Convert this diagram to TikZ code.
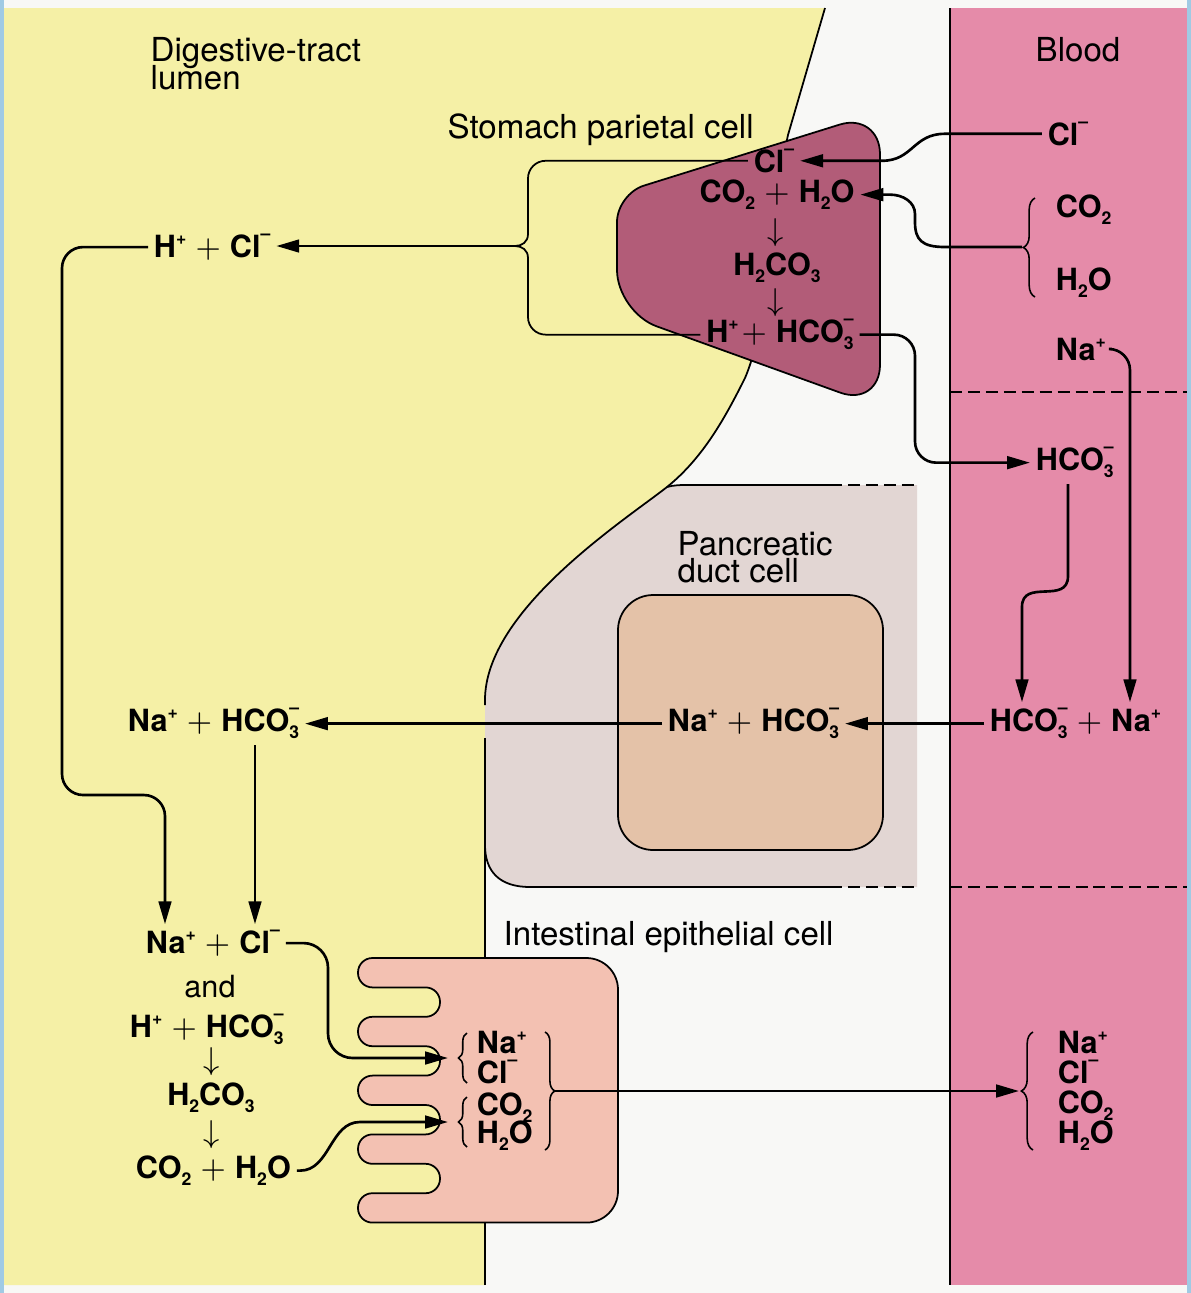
\documentclass[tikz,border=0pt]{standalone}
\usepackage{fontspec}
\setmainfont{TeX Gyre Heros}
\usetikzlibrary{positioning}
\usetikzlibrary{arrows.meta}
\usetikzlibrary{decorations.pathreplacing}
\definecolor{lumenyellow}{RGB}{245,240,166}
\definecolor{bloodpink}{RGB}{229,139,169}
\definecolor{parietal}{RGB}{178,92,120}
\definecolor{ductcell}{RGB}{226,214,211}
\definecolor{ductcore}{RGB}{228,194,168}
\definecolor{villuscell}{RGB}{243,193,178}
\definecolor{paper}{RGB}{248,248,246}
\definecolor{scanedge}{RGB}{160,202,228}
\newcommand{\ionpos}{\raisebox{0.75ex}{\fontsize{5}{5}\selectfont +}}
\newcommand{\ionneg}{\raisebox{1.05ex}{\fontsize{5}{5}\selectfont \textendash}}
\newcommand{\atoms}[1]{\raisebox{-0.48ex}{\fontsize{5}{5}\selectfont #1}}
\newcommand{\bicarb}{HCO\rlap{\atoms{3}}\ionneg}
\newcommand{\plusop}{\hspace{0.3em}$+$\hspace{0.3em}}

\begin{document}
\begin{tikzpicture}[x=0.01cm, y=-0.01cm,
		ion/.style={font=\fontsize{8.7}{8.5}\selectfont\bfseries, inner sep=1.5pt},
		word/.style={font=\fontsize{8.7}{8.5}\selectfont, inner sep=1.5pt},
		region/.style={font=\fontsize{9.4}{7.6}\selectfont, align=left, inner sep=0pt},
		conn/.style={line width=0.75pt, rounded corners=6pt},
		arr/.style={conn, -{Triangle[length=6.5pt,width=3.6pt]}},
		cellline/.style={line width=0.5pt},
		bracketline/.style={line width=0.5pt, rounded corners=5pt},
		memdash/.style={line width=0.6pt, dash pattern=on 3.4pt off 1.7pt},
		ionbrace/.style={decorate, decoration={brace, amplitude=#1}, line width=0.45pt}]

	\useasboundingbox (0,0) rectangle (1191,1293);
	\fill[paper] (0,0) rectangle (1191,1293);
	\fill[scanedge] (0,0) rectangle (4,1293);
	\fill[scanedge] (1187,0) rectangle (1191,1293);

	% lumen, blood and pancreatic duct cell
	\fill[lumenyellow] (4,8) -- (825,8) -- (788,135) .. controls (776,190) and (770,320) .. (745,378)
		.. controls (725,418) and (703,458) .. (667,487) .. controls (625,520) and (485,610) .. (485,700)
		-- (485,1285) -- (4,1285) -- cycle;
	\fill[bloodpink] (950,8) rectangle (1187,1285);
	\draw[cellline] (950,8) -- (950,1285);
	\draw[memdash] (950,392) -- (1187,392);
	\draw[memdash] (950,887) -- (1187,887);

	\fill[ductcell] (485,700) .. controls (485,610) and (625,520) .. (667,487) .. controls (674,485) and (680,485) .. (690,485)
		-- (917,485) -- (917,887) -- (530,887) .. controls (500,887) and (485,872) .. (485,845) -- cycle;
	\draw[cellline] (825,8) -- (788,135) .. controls (776,190) and (770,320) .. (745,378)
		.. controls (725,418) and (703,458) .. (667,487);
	\draw[cellline] (485,705) -- (485,700) .. controls (485,610) and (625,520) .. (667,487)
		.. controls (674,485) and (680,485) .. (690,485) -- (830,485);
	\draw[cellline] (485,738) -- (485,1285);
	\draw[cellline] (485,845) .. controls (485,872) and (500,887) .. (530,887) -- (830,887);
	\draw[memdash] (830,485) -- (917,485);
	\draw[memdash] (830,887) -- (917,887);
	\draw[cellline, fill=ductcore, rounded corners=10pt] (618,595) rectangle (883,850);

	% stomach parietal cell
	\draw[cellline, fill=parietal, rounded corners=8pt] (617,194) [rounded corners=12pt] -- (880,112) -- (880,407)
		-- (617,312) [rounded corners=8pt] -- cycle;

	% intestinal epithelial cell
	\draw[cellline, fill=villuscell, rounded corners=4.1pt] (500,958) [rounded corners=9pt] -- (618,958) -- (618,1222.6)
		[rounded corners=4.1pt] -- (358,1222.6) -- (358,1193.2) -- (440,1193.2) -- (440,1163.8) -- (358,1163.8)
		-- (358,1134.4) -- (440,1134.4) -- (440,1105) -- (358,1105)
		-- (358,1075.6) -- (440,1075.6) -- (440,1046.2) -- (358,1046.2)
		-- (358,1016.8) -- (440,1016.8) -- (440,987.4) -- (358,987.4) -- (358,958) -- cycle;

	\node[region, anchor=north west] (lumenlbl) at (150,37) {Digestive-tract\\[-2pt]lumen};
	\node[region, anchor=base west] (stomachlbl) at (447,138) {Stomach parietal cell};
	\node[region, anchor=base] (bloodlbl) at (1078,61) {Blood};
	\node[region, anchor=north west] (ductlbl) at (677,531) {Pancreatic\\duct cell};
	\node[region, anchor=base west] (villuslbl) at (503,945) {Intestinal epithelial cell};

	\node[ion, anchor=base] (scl) at (774,172) {Cl\ionneg};
	\node[ion, anchor=base] (sgas) at (777,202) {CO\atoms{2}\plusop H\atoms{2}O};
	\node[word] (sdown1) at (776,233) {$\downarrow$};
	\node[ion, anchor=base] (sacid) at (777,275) {H\atoms{2}CO\atoms{3}};
	\node[word] (sdown2) at (776,303) {$\downarrow$};
	\node[ion, anchor=base] (ssplit) at (780,342) {H\ionpos\hspace{0.1em}$+$\hspace{0.3em}\bicarb};

	\node[ion, anchor=base] (bcl) at (1068,145) {Cl\ionneg};
	\node[ion, anchor=base west] (bco) at (1050,217) {CO\atoms{2}};
	\node[ion, anchor=base west] (bwater) at (1050,290) {H\atoms{2}O};
	\node[ion, anchor=base west] (bna) at (1050,360) {Na\ionpos};
	\node[ion, anchor=base west] (bhco) at (1030,470) {\bicarb};
	\node[ion, anchor=base west] (bmix) at (984,731) {\bicarb\plusop Na\ionpos};
	\node[ion, anchor=base west] (bna2) at (1052,1053) {Na\ionpos};
	\node[ion, anchor=base west] (bcl2) at (1052,1083) {Cl\ionneg};
	\node[ion, anchor=base west] (bco2) at (1052,1113) {CO\atoms{2}};
	\node[ion, anchor=base west] (bwater2) at (1052,1143) {H\atoms{2}O};

	\node[ion, anchor=base west] (dmix) at (662,731) {Na\ionpos\plusop\bicarb};

	\node[ion, anchor=base west] (lhcl) at (148,257) {H\ionpos\plusop Cl\ionneg};
	\node[ion, anchor=base west] (lnahco) at (122,731) {Na\ionpos\plusop\bicarb};
	\node[ion, anchor=base west] (lnacl) at (140,953) {Na\ionpos\plusop Cl\ionneg};
	\node[word, anchor=base] (land) at (210,997) {and};
	\node[ion, anchor=base west] (lhhco) at (124,1037) {H\ionpos\plusop\bicarb};
	\node[word] (ldown1) at (212,1062) {$\downarrow$};
	\node[ion, anchor=base] (lacid) at (211,1105) {H\atoms{2}CO\atoms{3}};
	\node[word] (ldown2) at (212,1135) {$\downarrow$};
	\node[ion, anchor=base west] (lgas) at (130,1178) {CO\atoms{2}\plusop H\atoms{2}O};

	\node[ion, anchor=base west] (ina) at (471,1053) {Na\ionpos};
	\node[ion, anchor=base west] (icl) at (471,1083) {Cl\ionneg};
	\node[ion, anchor=base west] (ico) at (471,1115) {CO\atoms{2}};
	\node[ion, anchor=base west] (iwater) at (471,1143) {H\atoms{2}O};

	% braces
	\draw[ionbrace=3.3pt] (1035,297) -- (1035,198);
	\draw[ionbrace=2.4pt] (467,1083) -- (467,1033);
	\draw[ionbrace=2.4pt] (467,1147) -- (467,1097);
	\draw[ionbrace=2.8pt] (545,1032) -- (545,1150);
	\draw[ionbrace=3.3pt] (1033,1150) -- (1033,1032);

	\coordinate (clamp) at (515,246);
	\coordinate (clampup) at (528,234);
	\coordinate (clampdown) at (528,258);
	\draw[bracketline] (scl.west) -| (clampup);
	\draw[line width=0.5pt] (clampup) .. controls (528,242) and (522,246) .. (clamp)
		.. controls (522,246) and (528,250) .. (clampdown);
	\draw[bracketline] (clampdown) |- (ssplit.west);
	\draw[arr] (clamp) -- (clamp -| lhcl.east);

	% stomach connectors
	\coordinate (clhi) at (945,0);
	\coordinate (clmid) at (913,0);
	\coordinate (cllo) at (882,0);
	\draw[arr, sharp corners] (bcl.west) -- (bcl.west -| clhi) .. controls (bcl.west -| clmid) and (scl.east -| clmid)
		.. (scl.east -| cllo) -- (scl.east);
	\coordinate (bgasin) at (1022,247);
	\coordinate (gasturn) at (915,222);
	\coordinate (gasrise) at (915,214);
	\coordinate (gasfold) at (903,0);
	\coordinate (gasleft) at (890,0);
	\draw[arr, sharp corners] (bgasin) -- (945,247) .. controls (922,247) and (915,240) .. (gasturn) -- (gasrise)
		.. controls (915,202) and (sgas.east -| gasfold) .. (sgas.east -| gasleft) -- (sgas.east);
	\coordinate (hcobend) at (915,400);
	\draw[arr] (ssplit.east) -| (hcobend) |- (bhco.west);

	% pancreatic connectors
	\coordinate (nadown) at (1130,500);
	\draw[arr] (bna.east) -| (nadown |- bmix.north);
	\coordinate (hcoswing) at (1068,555);
	\coordinate (hcoland) at (1022,628);
	\draw[arr] (bhco.south -| hcoswing) -- (hcoswing) .. controls (1068,605) and (1022,578) .. (hcoland) -- (hcoland |- bmix.north);
	\draw[arr] (bmix.west) -- (dmix.east);
	\draw[arr] (dmix.west) -- (lnahco.east);

	% lumen connectors
	\coordinate (hclturn) at (62,795);
	\coordinate (nadrop) at (165,795);
	\draw[arr] (lhcl.west) -| (hclturn) -- (nadrop) -- (nadrop |- lnacl.north);
	\coordinate (hcodrop) at (255,800);
	\draw[arr] (hcodrop |- lnahco.south) -- (hcodrop |- lnacl.north);

	% intestinal connectors
	\coordinate (naclrun) at (328,1000);
	\coordinate (naclin) at (448,1058);
	\draw[arr, rounded corners=7pt] (lnacl.east) -| (naclrun) |- (naclin);
	\coordinate (gaslo) at (300,0);
	\coordinate (gasmid) at (330,0);
	\coordinate (gashi) at (360,0);
	\coordinate (gasin) at (448,1122);
	\draw[arr, sharp corners] (lgas.east) -- (lgas.east -| gaslo) .. controls (lgas.east -| gasmid) and (gasin -| gasmid)
		.. (gasin -| gashi) -- (gasin);
	\coordinate (villusout) at (555,1091);
	\coordinate (bloodin) at (1019,1091);
	\draw[arr] (villusout) -- (bloodin);

\end{tikzpicture}
\end{document}
